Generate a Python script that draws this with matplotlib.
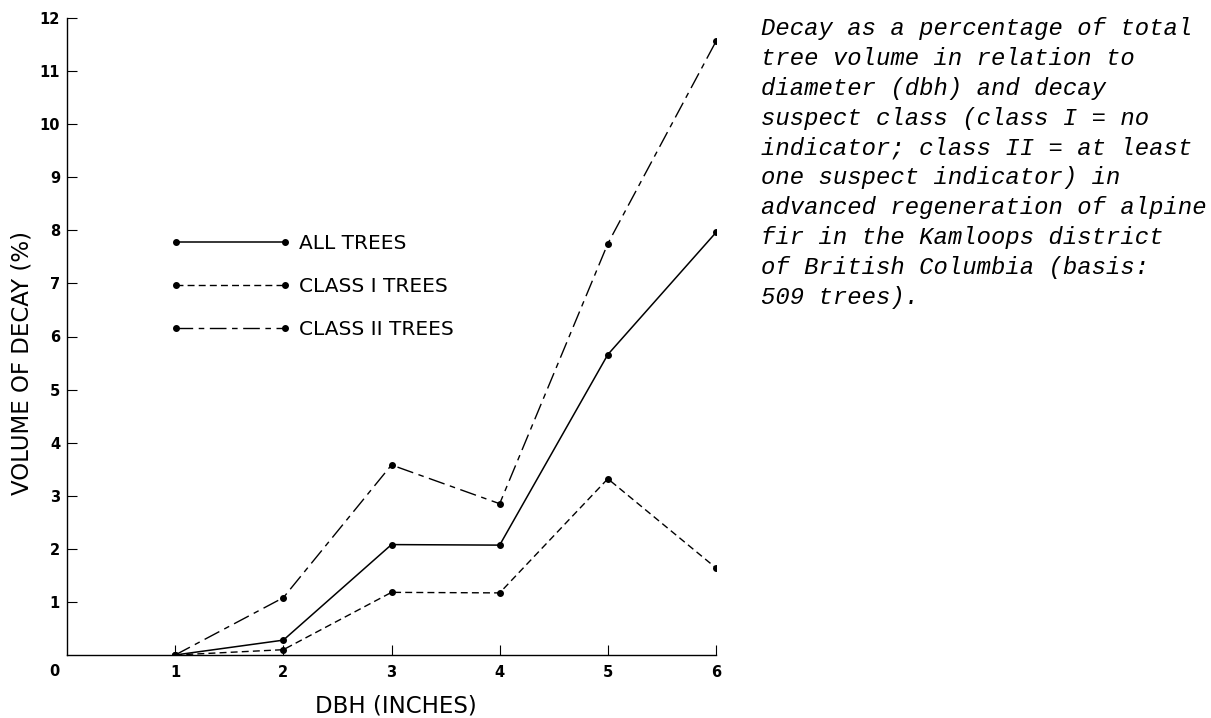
# Decay volume vs dbh, alpine fir, Kamloops district
import matplotlib
matplotlib.use("Agg")
import matplotlib.pyplot as plt

# data
dbh = [1, 2, 3, 4, 5, 6]
all_trees = [0.0, 0.28, 2.08, 2.07, 5.66, 7.96]
class1_trees = [0.0, 0.10, 1.18, 1.17, 3.32, 1.64]
class2_trees = [0.0, 1.08, 3.58, 2.85, 7.75, 11.56]

x_ticks = [1, 2, 3, 4, 5, 6]
y_ticks = [1, 2, 3, 4, 5, 6, 7, 8, 9, 10, 11, 12]

caption = ("Decay as a percentage of total\n"
           "tree volume in relation to\n"
           "diameter (dbh) and decay\n"
           "suspect class (class I = no\n"
           "indicator; class II = at least\n"
           "one suspect indicator) in\n"
           "advanced regeneration of alpine\n"
           "fir in the Kamloops district\n"
           "of British Columbia (basis:\n"
           "509 trees).")

W, H = 1211, 718
fig = plt.figure(figsize=(W / 100, H / 100), dpi=100)
ax = fig.add_axes([67 / W, 1 - 655 / H, (716 - 67) / W, (655 - 18) / H])

ax.plot(dbh, all_trees, color="black", lw=1.1, ls="-",
        marker="o", ms=4, label="ALL TREES")
ax.plot(dbh, class1_trees, color="black", lw=1.0, ls=(0, (5, 3)),
        marker="o", ms=4, label="CLASS I TREES")
ax.plot(dbh, class2_trees, color="black", lw=1.0, ls=(0, (12, 4, 4, 4)),
        marker="o", ms=4, label="CLASS II TREES")

ax.set_xlim(0, 6)
ax.set_ylim(0, 12)
ax.set_xticks(x_ticks)
ax.set_yticks(y_ticks)
ax.tick_params(direction="in", length=7, width=0.8, labelsize=10.5)
ax.tick_params(axis="x", pad=7)
ax.tick_params(axis="y", pad=5)
for lab in ax.get_xticklabels() + ax.get_yticklabels():
    lab.set_fontweight("bold")
for s in ["top", "right"]:
    ax.spines[s].set_visible(False)
for s in ["left", "bottom"]:
    ax.spines[s].set_linewidth(1.0)

# origin label sits below-left of the corner
ax.text((54 - 67) / 649, -(671 - 655) / 637, "0", transform=ax.transAxes,
        fontsize=10.5, fontweight="bold", ha="center", va="center")

ax.set_xlabel("DBH (INCHES)", fontsize=16.5, va="center")
ax.xaxis.set_label_coords((396 - 67) / 649, -(706 - 655) / 637)
ax.set_ylabel("VOLUME OF DECAY (%)", fontsize=16.5, va="center")
ax.yaxis.set_label_coords(-(67 - 22) / 649, (655 - 363) / 637)

leg = ax.legend(numpoints=2, frameon=False, loc="upper left",
                bbox_to_anchor=(170 / W, 1 - 234 / H), bbox_transform=fig.transFigure,
                borderpad=0, borderaxespad=0, handlelength=6.0,
                handletextpad=0.4, labelspacing=1.2, fontsize=14.5)

fig.text(761 / W, 1 - 17 / H, caption, fontsize=17.2, family="Liberation Mono",
         style="italic", ha="left", va="top", linespacing=1.38)

fig.savefig("out.png", dpi=100)
